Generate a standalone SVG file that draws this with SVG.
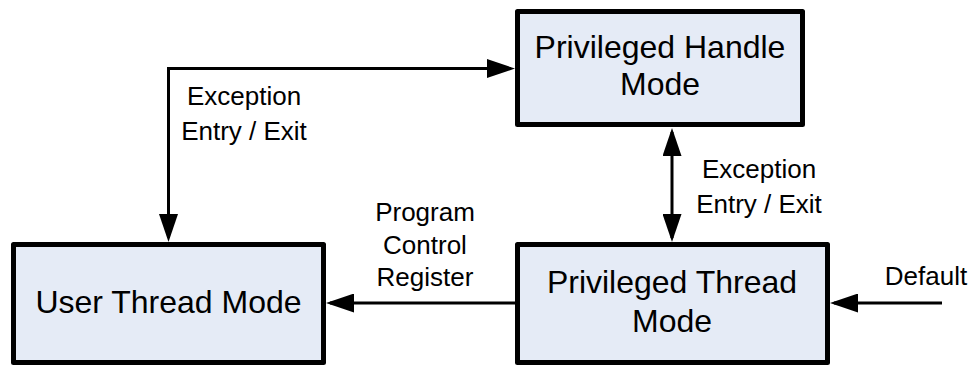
<svg xmlns="http://www.w3.org/2000/svg" width="969" height="366" viewBox="0 0 969 366">
  <style>
    .box { fill: #e5ebf6; stroke: #000; stroke-width: 5; stroke-linejoin: round; }
    .ntxt { font-family: "Liberation Sans", Arial, sans-serif; font-size: 32px; fill: #000; text-anchor: middle; }
    .ltxt { font-family: "Liberation Sans", Arial, sans-serif; font-size: 26px; fill: #000; text-anchor: middle; }
    .conn { fill: none; stroke: #000; stroke-width: 3; }
  </style>
  <defs>
    <marker id="arrow" viewBox="0 0 28 19" refX="24" refY="9.5" markerWidth="28" markerHeight="19" markerUnits="userSpaceOnUse" orient="auto-start-reverse">
      <path d="M0,0 L28,9.5 L0,19 Z" fill="#000"/>
    </marker>
  </defs>
  <rect width="969" height="366" fill="#fff"/>
  <g id="connectors">
    <path class="conn" d="M168.5,238 V68.5 H511" marker-start="url(#arrow)" marker-end="url(#arrow)"/>
    <path class="conn" d="M672,132 V238" marker-start="url(#arrow)" marker-end="url(#arrow)"/>
    <path class="conn" d="M515,303 H330" marker-end="url(#arrow)"/>
    <path class="conn" d="M942,303 H834" marker-end="url(#arrow)"/>
    <text class="ltxt" x="244" y="105">Exception</text>
    <text class="ltxt" x="244" y="140">Entry / Exit</text>
    <text class="ltxt" x="759" y="178">Exception</text>
    <text class="ltxt" x="759" y="213">Entry / Exit</text>
    <text class="ltxt" x="425" y="221">Program</text>
    <text class="ltxt" x="425" y="254">Control</text>
    <text class="ltxt" x="425" y="286">Register</text>
    <text class="ltxt" x="926" y="285">Default</text>
  </g>
  <g id="privileged-handle-mode">
    <rect class="box" x="517.5" y="11.5" width="285" height="113"/>
    <text class="ntxt" x="660" y="58">Privileged Handle</text>
    <text class="ntxt" x="660" y="95">Mode</text>
  </g>
  <g id="user-thread-mode">
    <rect class="box" x="13.5" y="244.5" width="310" height="118"/>
    <text class="ntxt" x="168.5" y="313">User Thread Mode</text>
  </g>
  <g id="privileged-thread-mode">
    <rect class="box" x="517.5" y="244.5" width="310" height="118"/>
    <text class="ntxt" x="672" y="293">Privileged Thread</text>
    <text class="ntxt" x="672" y="332">Mode</text>
  </g>
</svg>
